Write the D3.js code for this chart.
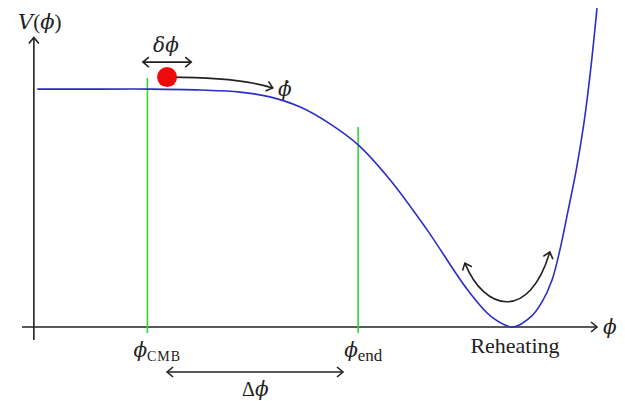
<!DOCTYPE html>
<html>
<head>
<meta charset="utf-8">
<script src="https://cdn.jsdelivr.net/npm/d3@7"></script>
<style>
  body { margin: 0; background: #fff; }
  text { fill: #222; }
  .math { font-family: "DejaVu Serif", serif; font-style: italic; }
  .roman { font-family: "Liberation Serif", "DejaVu Serif", serif; }
</style>
</head>
<body>
<div id="chart"></div>
<script>
// potential V(phi)
var phiVals = [0.4, 11.6, 20.5, 29.4, 36.5, 41.8, 47.2, 52.5, 57.5, 63.2, 69.8, 77.0, 81.3, 85.1, 88.4, 90.2, 92.0, 93.4, 94.8, 96.3, 97.7, 98.9, 100];
var vVals   = [79.3, 79.3, 79.3, 79.0, 78.3, 76.7, 73.3, 67.7, 60.7, 49.0, 32.3, 12.3, 3.3, 0, 3.7, 8.3, 15.7, 25.7, 38.3, 52.3, 68.3, 86.3, 106.3];
var markerNames = ['CMB', 'end'];
var markerPhi = [20, 57.5];
var markerTop = [83, 66.7];

var width = 625, height = 401;

var x = d3.scaleLinear().domain([0, 100]).range([35, 597]);
var y = d3.scaleLinear().domain([0, 100]).range([327, 27]);

var svg = d3.select('#chart').append('svg')
	.attr('width', width)
	.attr('height', height);

var defs = svg.append('defs');
function addMarker(id, d) {
	defs.append('marker')
		.attr('id', id)
		.attr('viewBox', '-10 -6 20 12')
		.attr('refX', 0).attr('refY', 0)
		.attr('markerWidth', 20).attr('markerHeight', 12)
		.attr('markerUnits', 'userSpaceOnUse')
		.attr('orient', 'auto')
		.append('path')
		.attr('d', d)
		.style('fill', 'none')
		.style('stroke', '#222')
		.style('stroke-width', 1.6);
}
addMarker('head', 'M-6,-5 L0,0 L-6,5');
addMarker('tail', 'M6,-5 L0,0 L6,5');

// axes
svg.append('line')
	.attr('x1', x(-2.3)).attr('y1', y(0))
	.attr('x2', x(100)).attr('y2', y(0))
	.attr('marker-end', 'url(#head)')
	.style('stroke', '#222').style('stroke-width', 1.6);
svg.append('line')
	.attr('x1', x(-0.2)).attr('y1', y(-4.3))
	.attr('x2', x(-0.2)).attr('y2', y(96.5))
	.attr('marker-end', 'url(#head)')
	.style('stroke', '#222').style('stroke-width', 1.6);

// green markers
svg.selectAll('line.mark').data(markerPhi)
	.enter().append('line')
	.attr('class', 'mark')
	.attr('x1', function(d) { return x(d); })
	.attr('x2', function(d) { return x(d); })
	.attr('y1', function(d, i) { return y(markerTop[i]); })
	.attr('y2', y(-2))
	.style('stroke', '#33d633')
	.style('stroke-width', 1.6);

// potential curve
var line = d3.line()
	.x(function(d, i) { return x(phiVals[i]); })
	.y(function(d) { return y(d); })
	.curve(d3.curveCatmullRom.alpha(0.5));
svg.append('path')
	.datum(vVals)
	.attr('d', line)
	.style('fill', 'none')
	.style('stroke', '#2c2cc8')
	.style('stroke-width', 1.6);

// ball and its arrows
svg.append('path')
	.attr('d', 'M' + x(24) + ',' + y(83.3) + ' Q' + x(36) + ',' + y(83.3) + ' ' + x(42.3) + ',' + y(79.7))
	.attr('marker-end', 'url(#head)')
	.style('fill', 'none').style('stroke', '#222').style('stroke-width', 1.6);
svg.append('circle')
	.attr('cx', x(23.5)).attr('cy', y(83.3)).attr('r', 10)
	.style('fill', '#ee0a0a');
svg.append('line')
	.attr('x1', x(19.2)).attr('y1', y(88.3))
	.attr('x2', x(27.8)).attr('y2', y(88.3))
	.attr('marker-start', 'url(#tail)')
	.attr('marker-end', 'url(#head)')
	.style('stroke', '#222').style('stroke-width', 1.6);
svg.append('line')
	.attr('x1', x(23.5)).attr('y1', y(-15))
	.attr('x2', x(54.8)).attr('y2', y(-15))
	.attr('marker-start', 'url(#tail)')
	.attr('marker-end', 'url(#head)')
	.style('stroke', '#222').style('stroke-width', 1.6);
svg.append('path')
	.attr('d', 'M' + x(76.5) + ',' + y(21.3) + ' C' + x(80) + ',' + y(5) + ' ' + x(88) + ',' + y(2) + ' ' + x(91.6) + ',' + y(25))
	.attr('marker-start', 'url(#tail)')
	.attr('marker-end', 'url(#head)')
	.style('fill', 'none').style('stroke', '#222').style('stroke-width', 1.6);

// labels
var lab = svg.append('g');
var vt = lab.append('text').attr('x', 18).attr('y', 29).style('font-size', '21px');
vt.append('tspan').attr('class', 'math').text('V');
vt.append('tspan').attr('class', 'roman').text('(');
vt.append('tspan').attr('class', 'math').text('ϕ');
vt.append('tspan').attr('class', 'roman').text(')');
lab.append('text').attr('class', 'math').attr('x', x(23.3)).attr('y', 52).attr('text-anchor', 'middle').style('font-size', '20px')
	.text('δϕ');
lab.append('text').attr('class', 'math').attr('x', 278).attr('y', 96).style('font-size', '20px')
	.text('ϕ̇');
lab.append('text').attr('class', 'math').attr('x', 603).attr('y', 334).style('font-size', '20px')
	.text('ϕ');
markerNames.forEach(function(n, i) {
	var t = lab.append('text').attr('x', x(markerPhi[i]) - 14).attr('y', 357);
	t.append('tspan').attr('class', 'math').style('font-size', '20px').text('ϕ');
	t.append('tspan').attr('class', 'roman').attr('dy', 4)
		.style('font-size', n === 'CMB' ? '14px' : '17px')
		.style('letter-spacing', n === 'CMB' ? '1px' : '0px')
		.text(n);
});
lab.append('text').attr('x', x(39.2)).attr('y', 396).attr('text-anchor', 'middle').style('font-size', '20px')
	.html('<tspan class="roman" font-style="normal">Δ</tspan><tspan class="math">ϕ</tspan>');
lab.append('text').attr('class', 'roman').attr('x', 515).attr('y', 353).attr('text-anchor', 'middle').style('font-size', '22px')
	.text('Reheating');
</script>
</body>
</html>
